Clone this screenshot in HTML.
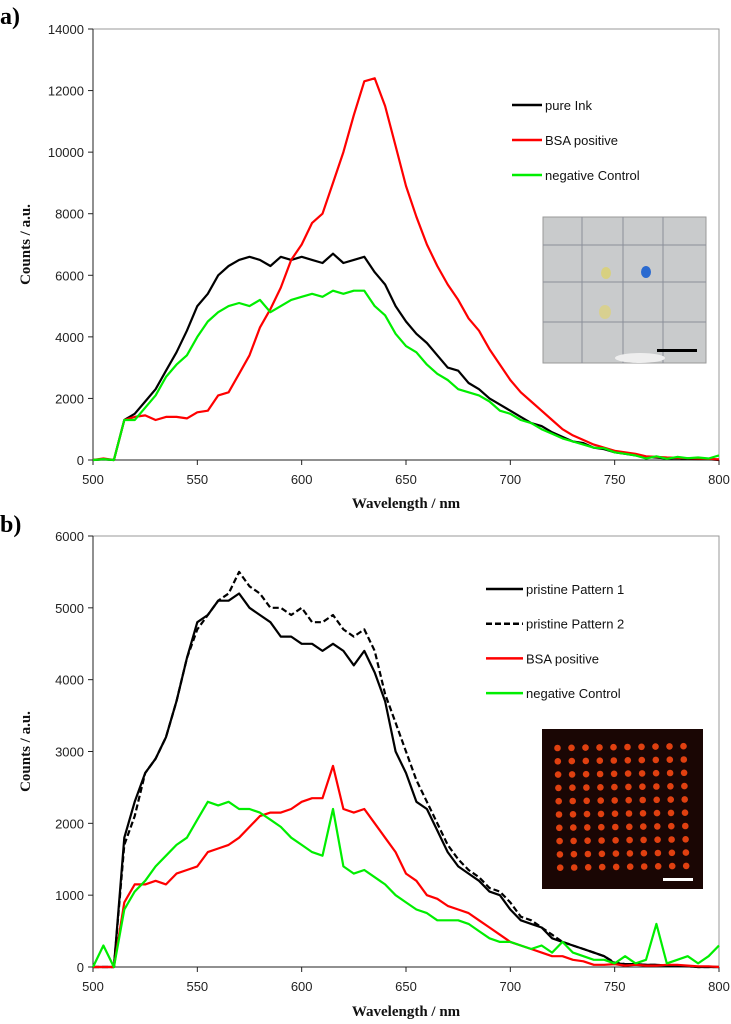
<!DOCTYPE html>
<html><head><meta charset="utf-8"><style>
body{margin:0;background:#fff}
svg{display:block}
.tick{font-family:"Liberation Sans",sans-serif;font-size:13px;fill:#222}
.title{font-family:"Liberation Serif",serif;font-weight:bold;font-size:15px;fill:#111}
.leg{font-family:"Liberation Sans",sans-serif;font-size:13px;fill:#111}
.pl{font-family:"Liberation Serif",serif;font-weight:bold;font-size:24px;fill:#000}
</style></head><body>
<svg id="chart" width="731" height="1024" viewBox="0 0 731 1024"></svg>
<script>
const wavelengths = [];
for (let w = 500; w <= 800; w += 5) wavelengths.push(w);
const xTicks = [500,550,600,650,700,750,800];
const yTicksA = [0,2000,4000,6000,8000,10000,12000,14000];
const yTicksB = [0,1000,2000,3000,4000,5000,6000];

const aPureInk = [0,20,0,1300,1500,1900,2300,2900,3500,4200,5000,5400,6000,6300,6500,6600,6500,6300,6600,6500,6600,6500,6400,6700,6400,6500,6600,6100,5700,5000,4500,4100,3800,3400,3000,2900,2500,2300,2000,1800,1600,1400,1200,1100,900,750,600,550,400,350,250,200,150,100,80,50,60,40,30,30,0];
const aBSA = [0,50,0,1300,1400,1450,1300,1400,1400,1350,1550,1600,2100,2200,2800,3400,4300,4900,5600,6500,7000,7700,8000,9000,10000,11200,12300,12400,11500,10200,8900,7900,7000,6300,5700,5200,4600,4200,3600,3100,2600,2200,1900,1600,1300,1000,800,650,500,400,300,250,200,120,100,80,70,60,50,40,20];
const aNeg = [0,30,0,1300,1300,1700,2100,2700,3100,3400,4000,4500,4800,5000,5100,5000,5200,4800,5000,5200,5300,5400,5300,5500,5400,5500,5500,5000,4700,4100,3700,3500,3100,2800,2600,2300,2200,2100,1900,1600,1500,1300,1200,1000,850,700,600,500,400,380,250,200,150,50,120,40,100,60,80,50,150];

const bP1 = [0,0,0,1800,2300,2700,2900,3200,3700,4300,4800,4900,5100,5100,5200,5000,4900,4800,4600,4600,4500,4500,4400,4500,4400,4200,4400,4100,3700,3000,2700,2300,2200,1900,1600,1400,1300,1200,1050,1000,800,650,600,550,400,350,300,250,200,150,50,40,40,30,30,20,20,10,0,0,0];
const bP2 = [0,0,0,1700,2100,2700,2900,3200,3700,4300,4700,4900,5100,5200,5500,5300,5200,5000,5000,4900,5000,4800,4800,4900,4700,4600,4700,4400,3800,3400,3000,2600,2300,2000,1700,1500,1350,1250,1100,1050,900,700,650,550,450,350,300,250,200,150,60,40,40,30,30,20,20,10,0,0,0];
const bBSA = [0,0,0,900,1150,1150,1200,1150,1300,1350,1400,1600,1650,1700,1800,1950,2100,2150,2150,2200,2300,2350,2350,2800,2200,2150,2200,2000,1800,1600,1300,1200,1000,950,850,800,750,650,550,450,350,300,250,200,150,150,100,80,30,30,40,20,30,20,20,30,30,20,10,10,0];
const bNeg = [0,300,0,800,1050,1200,1400,1550,1700,1800,2050,2300,2250,2300,2200,2200,2150,2050,1950,1800,1700,1600,1550,2200,1400,1300,1350,1250,1150,1000,900,800,750,650,650,650,600,500,400,350,350,300,250,300,200,350,200,150,100,100,50,150,50,100,600,50,100,150,50,150,300];

const NS = 'http://www.w3.org/2000/svg';
const svg = document.getElementById('chart');
function mk(tag, attrs, parent, text){
  const e = document.createElementNS(NS, tag);
  for (const k in attrs) e.setAttribute(k, attrs[k]);
  if (text !== undefined) e.textContent = text;
  (parent || svg).appendChild(e);
  return e;
}
const L = 93, R = 719;
function xs(w){ return L + (w - 500) / 300 * (R - L); }

function panel(id, top, bottom, ymax, yTicks, series, legendY, legX, label, labelY, xlabY, titleY){
  const g = mk('g', {});
  
  
  const ys = v => bottom - v / ymax * (bottom - top);
  const pl = mk('text', {x: 0, y: labelY, class: 'pl'}, g, label);
  
  
  const frame = mk('rect', {x: L, y: top, width: R - L, height: bottom - top, fill: 'none', stroke: '#999', 'stroke-width': 1}, g);
  
  
  const yax = mk('line', {x1: L, y1: top, x2: L, y2: bottom, stroke: '#222', 'stroke-width': 1}, g);
  
  
  const xax = mk('line', {x1: L, y1: bottom, x2: R, y2: bottom, stroke: '#222', 'stroke-width': 1}, g);
  
  
  yTicks.forEach(t => {
    const y = ys(t);
    mk('line', {x1: L - 5, y1: y, x2: L, y2: y, stroke: '#222'}, g);
    const tl = mk('text', {x: L - 9, y: y + 5, 'text-anchor': 'end', class: 'tick'}, g, String(t));
    
    
  });
  xTicks.forEach(t => {
    const x = xs(t);
    mk('line', {x1: x, y1: bottom, x2: x, y2: bottom + 5, stroke: '#222'}, g);
    const tl = mk('text', {x: x, y: xlabY, 'text-anchor': 'middle', class: 'tick'}, g, String(t));
    
    
  });
  const xt = mk('text', {x: (L + R) / 2, y: titleY, 'text-anchor': 'middle', class: 'title'}, g, 'Wavelength / nm');
  
  
  const cy = (top + bottom) / 2;
  const yt = mk('text', {x: 30, y: cy, 'text-anchor': 'middle', class: 'title', transform: 'rotate(-90 30 ' + cy + ')'}, g, 'Counts / a.u.');
  
  
  series.forEach((s, i) => {
    const d = s.vals.map((v, j) => (j ? 'L' : 'M') + xs(wavelengths[j]).toFixed(1) + ' ' + ys(v).toFixed(1)).join(' ');
    const p = mk('path', {d: d, fill: 'none', stroke: s.color, 'stroke-width': 2.2, 'stroke-linejoin': 'round', 'stroke-dasharray': s.dash || 'none'}, g);
    
    
    const ly = legendY + i * legendStep(id);
    const ll = mk('line', {x1: legX, y1: ly, x2: legX + (id === 'a' ? 30 : 37), y2: ly, stroke: s.color, 'stroke-width': 2.5, 'stroke-dasharray': s.dash || 'none'}, g);
    
    
    const lt = mk('text', {x: legX + (id === 'a' ? 33 : 40), y: ly + 5, class: 'leg'}, g, s.name);
    
    
  });
  return g;
}
function legendStep(id){ return id === 'a' ? 35 : 34.7; }

// draw order: legend/inset drawn with panels
panel('a', 29, 460, 14000, yTicksA, [
  {key: 'pure-ink', name: 'pure Ink', color: '#000', vals: aPureInk},
  {key: 'bsa-positive', name: 'BSA positive', color: '#ff0000', vals: aBSA},
  {key: 'negative-control', name: 'negative Control', color: '#00ee00', vals: aNeg}
], 105, 512, 'a)', 24, 484, 508);

panel('b', 536, 967, 6000, yTicksB, [
  {key: 'pristine-pattern-1', name: 'pristine Pattern 1', color: '#000', vals: bP1},
  {key: 'pristine-pattern-2', name: 'pristine Pattern 2', color: '#000', vals: bP2, dash: '6,3'},
  {key: 'bsa-positive-b', name: 'BSA positive', color: '#ff0000', vals: bBSA},
  {key: 'negative-control-b', name: 'negative Control', color: '#00ee00', vals: bNeg}
], 589, 486, 'b)', 532, 991, 1016);

// inset a: photo
const ia = mk('g', {});


mk('rect', {x: 543, y: 217, width: 163, height: 146, fill: '#c9cbcc', stroke: '#999'}, ia);
[582, 623, 663].forEach(x => mk('line', {x1: x, y1: 217, x2: x, y2: 363, stroke: '#8a8f99', 'stroke-width': 1}, ia));
[245, 282, 322].forEach(y => mk('line', {x1: 543, y1: y, x2: 706, y2: y, stroke: '#8a8f99', 'stroke-width': 1}, ia));
mk('ellipse', {cx: 606, cy: 273, rx: 5, ry: 6, fill: '#d8d080'}, ia);
mk('ellipse', {cx: 646, cy: 272, rx: 5, ry: 6, fill: '#2a6ad0'}, ia);
mk('ellipse', {cx: 605, cy: 312, rx: 6, ry: 7, fill: '#d8d090'}, ia);
mk('ellipse', {cx: 640, cy: 358, rx: 25, ry: 5, fill: '#eeeeee'}, ia);
mk('rect', {x: 657, y: 349, width: 40, height: 3, fill: '#000'}, ia);

// inset b: fluorescence array
const ib = mk('g', {});


mk('rect', {x: 542, y: 729, width: 161, height: 160, fill: '#1a0604'}, ib);
for (let r = 0; r < 10; r++) for (let c = 0; c < 10; c++) {
  mk('circle', {cx: 557.5 + c * 14 + r * 0.3, cy: 748 + r * 13.3 - c * 0.2, r: 3.3, fill: '#e04010'}, ib);
}
mk('rect', {x: 663, y: 878, width: 30, height: 3, fill: '#fff'}, ib);
</script>
</body></html>
